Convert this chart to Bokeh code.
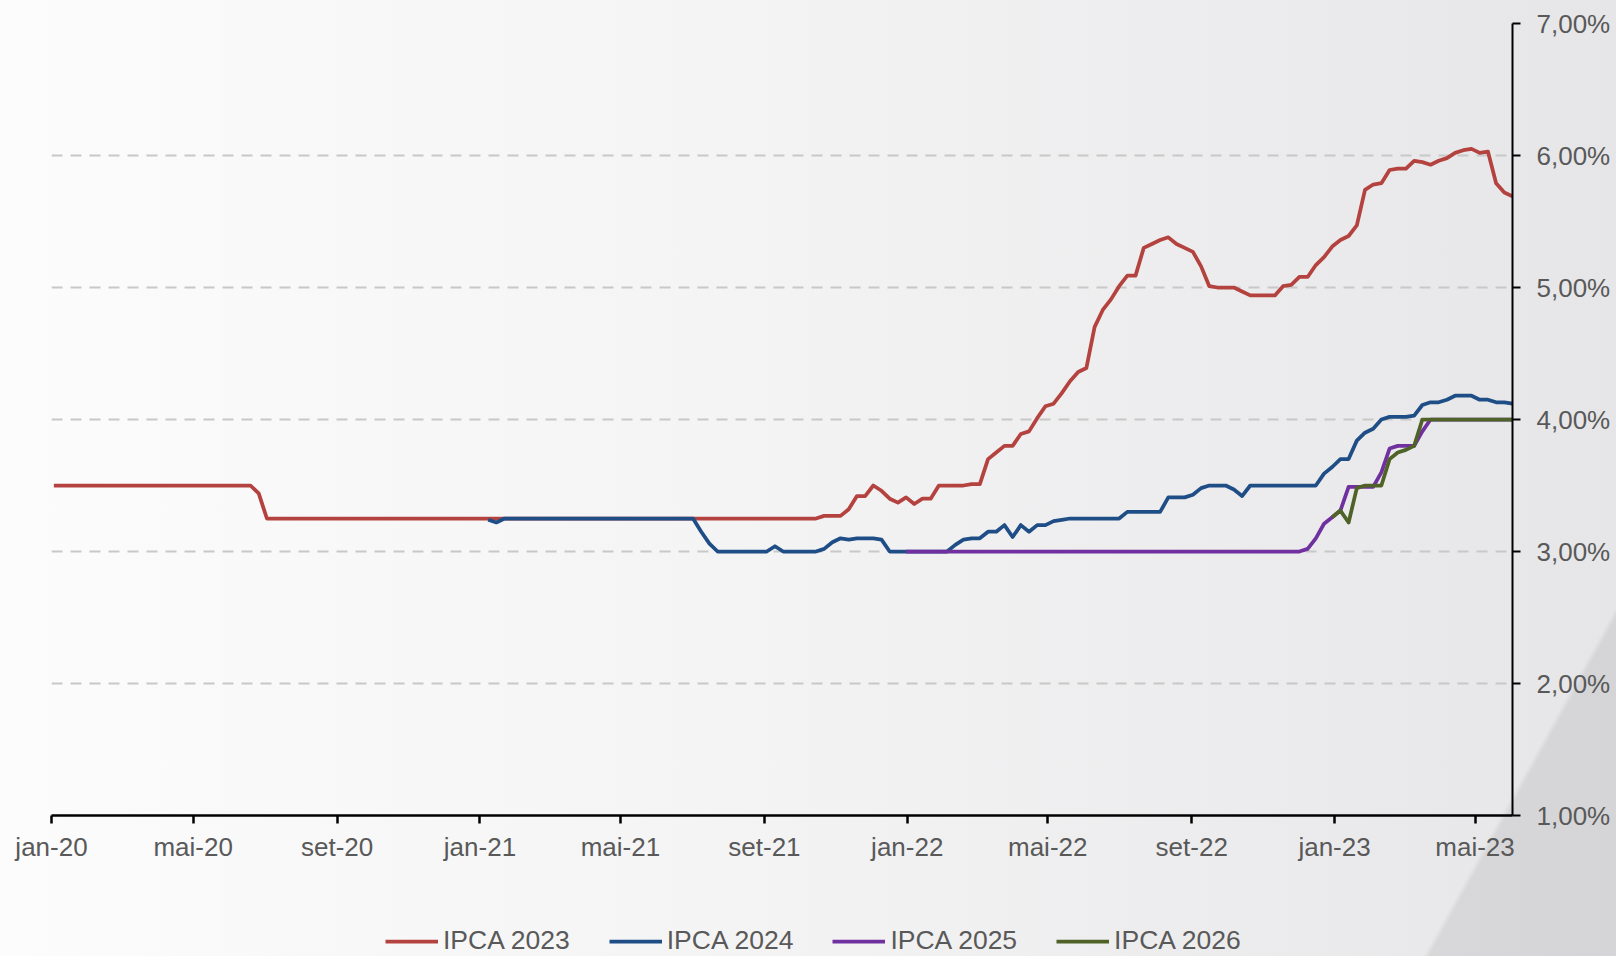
import pandas as pd
from bokeh.plotting import figure
from bokeh.layouts import column
from bokeh.models import FixedTicker, Legend, LegendItem, Range1d
from bokeh.embed import file_html
from bokeh.resources import INLINE

# ---------------- data (weekly Focus expectations, % a.a.) ----------------
start_2023 = "2020-01-03"
ipca_2023 = ([3.50] * 25 + [3.44] + [3.25] * 68 +
             [3.27, 3.27, 3.27, 3.32, 3.42, 3.42, 3.50, 3.46, 3.40, 3.37, 3.41, 3.36,
              3.40, 3.40, 3.50, 3.50, 3.50, 3.50, 3.51, 3.51, 3.70, 3.75, 3.80, 3.80,
              3.89, 3.91, 4.01, 4.10, 4.12, 4.20, 4.29, 4.36, 4.39, 4.70, 4.83, 4.91,
              5.01, 5.09, 5.09, 5.30, 5.33, 5.36, 5.38, 5.33, 5.30, 5.27, 5.16, 5.01,
              5.00, 5.00, 5.00, 4.97, 4.94, 4.94, 4.94, 4.94, 5.01, 5.02, 5.08, 5.08,
              5.17, 5.23, 5.31, 5.36, 5.39, 5.47, 5.74, 5.78, 5.79, 5.89, 5.90, 5.90,
              5.96, 5.95, 5.93, 5.96, 5.98, 6.02, 6.04, 6.05, 6.02, 6.03, 5.79, 5.72,
              5.69])

start_2024 = "2021-01-08"
ipca_2024 = ([3.24, 3.22] + [3.25] * 24 + [3.15, 3.06] + [3.00] * 7 + [3.04] +
             [3.00] * 5 + [3.02, 3.07, 3.10, 3.09, 3.10, 3.10, 3.10, 3.09] +
             [3.00] * 8 +
             [3.05, 3.09, 3.10, 3.10, 3.15, 3.15, 3.20, 3.11, 3.20, 3.15, 3.20, 3.20,
              3.23, 3.24] + [3.25] * 7 + [3.30] * 5 +
             [3.41, 3.41, 3.41, 3.43, 3.48, 3.50, 3.50, 3.50, 3.47, 3.42] +
             [3.50] * 9 +
             [3.59, 3.64, 3.70, 3.70, 3.84, 3.90, 3.93, 4.00, 4.02, 4.02, 4.02, 4.03,
              4.11, 4.13, 4.13, 4.15, 4.18, 4.18, 4.18, 4.15, 4.15, 4.13, 4.13, 4.12])

start_2025 = "2021-12-31"
ipca_2025 = ([3.00] * 49 +
             [3.02, 3.10, 3.21, 3.26, 3.31, 3.49, 3.49, 3.49, 3.49, 3.60, 3.78, 3.80,
              3.80, 3.80, 3.91] + [4.00] * 11)

start_2026 = "2022-12-30"
ipca_2026 = ([3.26, 3.31, 3.22, 3.48, 3.50, 3.50, 3.50, 3.70, 3.75, 3.77, 3.80] +
             [4.00] * 12)

series_names = ["IPCA 2023", "IPCA 2024", "IPCA 2025", "IPCA 2026"]
series_starts = [start_2023, start_2024, start_2025, start_2026]
series_values = [ipca_2023, ipca_2024, ipca_2025, ipca_2026]
series_colors = ["#b4423e", "#1f4e86", "#7030a0", "#4f6228"]

x_tick_dates = ["2020-01-01", "2020-05-01", "2020-09-01", "2021-01-01", "2021-05-01",
                "2021-09-01", "2022-01-01", "2022-05-01", "2022-09-01", "2023-01-01",
                "2023-05-01"]
x_tick_labels = ["jan-20", "mai-20", "set-20", "jan-21", "mai-21", "set-21",
                 "jan-22", "mai-22", "set-22", "jan-23", "mai-23"]
y_ticks = [1, 2, 3, 4, 5, 6, 7]
y_tick_labels = ["1,00%", "2,00%", "3,00%", "4,00%", "5,00%", "6,00%", "7,00%"]

x_start, x_end = "2020-01-01", "2023-06-02"

# ---------------- main figure ----------------
FONT = "Liberation Sans"
GRAY = "#595959"
LW = 3.75
W, H_MAIN, H_LEG = 1616, 900, 56

p = figure(width=W, height=H_MAIN, x_axis_type="datetime", y_axis_location="right",
           x_range=Range1d(pd.Timestamp(x_start), pd.Timestamp(x_end)),
           y_range=Range1d(y_ticks[0], y_ticks[-1]),
           output_backend="svg", toolbar_location=None,
           min_border_left=51, min_border_right=104, min_border_top=23,
           min_border_bottom=H_MAIN - 815)

p.border_fill_color = None
p.background_fill_color = None
p.outline_line_color = None

series_x = []
for start, vals, col in zip(series_starts, series_values, series_colors):
    xs = pd.date_range(start, periods=len(vals), freq="7D")
    series_x.append(xs)
    p.line(xs, vals, line_width=LW, line_color=col, line_join="round")

# x axis
ms = [int(pd.Timestamp(d).value // 10**6) for d in x_tick_dates]
p.xaxis.ticker = FixedTicker(ticks=ms)
p.xaxis.major_label_overrides = {m: lab for m, lab in zip(ms, x_tick_labels)}
p.xaxis.axis_line_color = "black"
p.xaxis.axis_line_width = 2.5
p.xaxis.major_tick_line_color = "black"
p.xaxis.major_tick_line_width = 2.5
p.xaxis.major_tick_out = 8
p.xaxis.major_tick_in = 0
p.xaxis.minor_tick_line_color = None
p.xaxis.major_label_standoff = 8
p.xaxis.major_label_text_font = FONT
p.xaxis.major_label_text_font_size = "26px"
p.xaxis.major_label_text_color = GRAY

# y axis (right)
p.yaxis.ticker = FixedTicker(ticks=y_ticks)
p.yaxis.major_label_overrides = {t: lab for t, lab in zip(y_ticks, y_tick_labels)}
p.yaxis.axis_line_color = "black"
p.yaxis.axis_line_width = 2
p.yaxis.major_tick_line_color = "black"
p.yaxis.major_tick_line_width = 2
p.yaxis.major_tick_out = 8
p.yaxis.major_tick_in = 0
p.yaxis.minor_tick_line_color = None
p.yaxis.major_label_standoff = 16
p.yaxis.major_label_text_font = FONT
p.yaxis.major_label_text_font_size = "26px"
p.yaxis.major_label_text_color = GRAY

# grid
p.xgrid.visible = False
p.ygrid.ticker = FixedTicker(ticks=y_ticks[1:])
p.ygrid.grid_line_color = "#c8c8c8"
p.ygrid.grid_line_width = 2
p.ygrid.grid_line_dash = "11 8"

# ---------------- legend strip ----------------
# same series, drawn with a y range that keeps them out of view: only the legend shows
pl = figure(width=W, height=H_LEG, x_axis_type="datetime",
            x_range=Range1d(pd.Timestamp(x_start), pd.Timestamp(x_end)),
            y_range=Range1d(100, 101),
            x_axis_location=None, y_axis_location=None,
            output_backend="svg", toolbar_location=None,
            min_border_left=0, min_border_right=0, min_border_top=0, min_border_bottom=0)
pl.border_fill_color = None
pl.background_fill_color = None
pl.outline_line_color = None
pl.grid.visible = False

items = []
for name, xs, vals, col in zip(series_names, series_x, series_values, series_colors):
    r = pl.line(xs, vals, line_width=LW, line_color=col)
    items.append(LegendItem(label=name, renderers=[r]))

legend = Legend(items=items, orientation="horizontal", location=(334, 0),
                glyph_width=53, glyph_height=30, label_height=30,
                label_standoff=5, spacing=39, padding=0, margin=0,
                label_text_font=FONT, label_text_font_size="26.5px",
                label_text_color=GRAY, border_line_color=None,
                background_fill_alpha=0)
pl.add_layout(legend, "center")

layout = column(p, pl, spacing=0, styles={
    "background": "linear-gradient(118.9deg, rgba(0,0,0,0) 91.0%, rgba(0,0,0,0.075) 91.3%),"
                  " linear-gradient(90deg, #fcfcfd 0%, #f4f4f5 45%, #e6e6e8 100%)"
})

open("out.html", "w").write(file_html(layout, INLINE))
